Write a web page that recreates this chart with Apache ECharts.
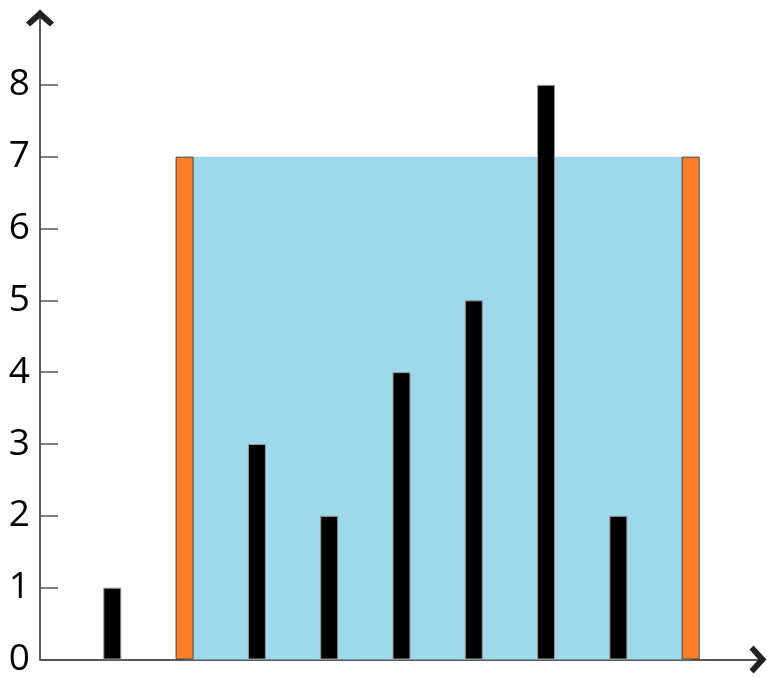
<!DOCTYPE html>
<html><head><meta charset="utf-8">
<script src="https://cdn.jsdelivr.net/npm/echarts@6/dist/echarts.min.js"></script>
<style>html,body{margin:0;padding:0;background:#fff}#c{width:767px;height:678px}</style>
</head><body><div id="c"></div>
<script>
const positions = [1, 2, 3, 4, 5, 6, 7, 8, 9];
const heights = [1, 7, 3, 2, 4, 5, 8, 2, 7];
const containerIdx = [1, 8];
const waterLevel = 7;
const yTicks = [0, 1, 2, 3, 4, 5, 6, 7, 8];

const chevron = 'path://M0,11 L12,0 L24,11 L20.5,14.5 L12,7 L3.5,14.5 Z';
const chart = echarts.init(document.getElementById('c'));
const barData = positions.map((p, i) => {
  const isC = containerIdx.includes(i);
  return {
    value: [p, heights[i]],
    itemStyle: {
      color: isC ? '#ff7f27' : '#000000',
      borderColor: isC ? '#444444' : '#9a9a9a',
      borderWidth: 1
    }
  };
});
chart.setOption({
  animation: false,
  grid: { left: 40, right: 4, top: 13, bottom: 15 },
  xAxis: {
    type: 'value', min: 0, max: 10, interval: 1,
    axisLine: { show: true, onZero: false, lineStyle: { color: '#222', width: 1.5 },
      symbol: ['none', chevron], symbolSize: [28, 17], symbolOffset: [0, -5] },
    axisTick: { show: false }, axisLabel: { show: false }, splitLine: { show: false }
  },
  yAxis: {
    type: 'value', min: 0, max: 9, interval: 1,
    axisLine: { show: true, lineStyle: { color: '#222', width: 1.5 },
      symbol: ['none', chevron], symbolSize: [28, 17], symbolOffset: [0, -5] },
    axisTick: { show: true, inside: true, length: 18, customValues: yTicks, lineStyle: { color: '#555', width: 1.5 } },
    axisLabel: { margin: 10, fontSize: 37, color: '#000', fontFamily: 'Open Sans', customValues: yTicks },
    splitLine: { show: false }
  },
  series: [{
    type: 'bar',
    barWidth: 18,
    data: barData,
    z: 3,
    markArea: {
      silent: true,
      itemStyle: { color: '#9dd9ea' },
      data: [[{ coord: [positions[containerIdx[0]], 0] }, { coord: [positions[containerIdx[1]], waterLevel] }]]
    }
  }]
});
</script></body></html>
